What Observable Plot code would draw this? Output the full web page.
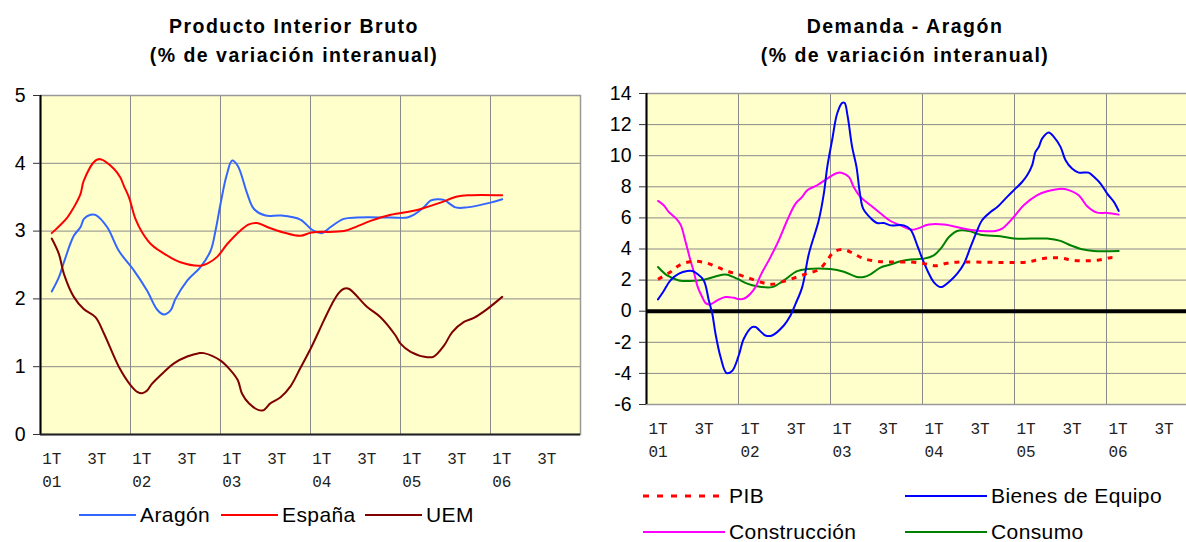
<!DOCTYPE html>
<html><head><meta charset="utf-8">
<script src="https://cdn.jsdelivr.net/npm/d3@7"></script>
<script src="https://cdn.jsdelivr.net/npm/@observablehq/plot@0.6"></script>
<style>
html,body{margin:0;padding:0;background:#fff;overflow:hidden;}
#wrap{position:relative;width:1186px;height:542px;overflow:hidden;font-family:"Liberation Sans",Arial,sans-serif;color:#000;}
.title{position:absolute;top:12px;width:460px;font-weight:bold;font-size:19.5px;letter-spacing:1.5px;text-align:center;line-height:29px;}
.chart{position:absolute;top:0;}
.leg{position:absolute;font-size:21px;letter-spacing:0.4px;display:flex;align-items:center;white-space:nowrap;height:26px;}
.leg svg{margin-right:4px;}
</style></head><body><div id="wrap"></div>
<script>
// ---------- data (x = quarter index, 0 = 1T 2001; y = % variación interanual) ----------
const quarterTicks = [0,2,4,6,8,10,12,14,16,18,20,22];
const quarterLabels = ["1T","3T","1T","3T","1T","3T","1T","3T","1T","3T","1T","3T"];
const yearTicks = [0,4,8,12,16,20];
const yearLabels = ["01","02","03","04","05","06"];
const yearBounds = [3.5,7.5,11.5,15.5,19.5];
const yTicksPIB = [0,1,2,3,4,5];
const yTicksDem = [-6,-4,-2,0,2,4,6,8,10,12,14];

const aragon = [[0,2.11],[0.32,2.32],[0.54,2.54],[0.98,2.93],[1.28,3.06],[1.43,3.18],[1.72,3.24],[1.94,3.24],[2.46,3.06],[2.98,2.71],[3.65,2.42],[4.24,2.12],[4.69,1.84],[4.98,1.77],[5.28,1.83],[5.5,2.0],[6.02,2.27],[6.61,2.47],[7.06,2.71],[7.28,3.01],[7.5,3.40],[7.77,3.82],[8.02,4.04],[8.27,3.96],[8.69,3.55],[8.98,3.33],[9.5,3.23],[10.17,3.23],[11.05,3.17],[11.57,3.02],[12.02,2.97],[12.39,3.06],[12.98,3.18],[13.57,3.2],[15.06,3.2],[15.8,3.2],[16.09,3.24],[16.54,3.35],[16.83,3.45],[17.13,3.47],[17.43,3.46],[17.95,3.35],[18.46,3.35],[19.5,3.42],[20.02,3.47]];
const espana = [[0,2.97],[0.69,3.20],[0.98,3.35],[1.28,3.55],[1.42,3.74],[1.94,4.04],[2.17,4.06],[2.76,3.92],[3.05,3.79],[3.2,3.67],[3.43,3.50],[3.72,3.18],[4.02,2.98],[4.46,2.79],[5.13,2.64],[5.72,2.54],[6.61,2.49],[6.91,2.52],[7.35,2.62],[7.8,2.81],[8.39,3.01],[8.76,3.10],[9.13,3.12],[9.58,3.06],[10.3,2.98],[11.05,2.93],[11.55,2.98],[12.98,3.0],[13.57,3.07],[14.17,3.15],[15.06,3.24],[16.09,3.30],[16.54,3.34],[17.28,3.42],[18.02,3.51],[18.54,3.53],[20.02,3.53]];
const uem = [[0,2.89],[0.32,2.66],[0.54,2.37],[0.98,2.03],[1.42,1.85],[1.94,1.73],[2.32,1.49],[2.98,1.0],[3.5,0.73],[3.8,0.63],[4.02,0.61],[4.24,0.65],[4.46,0.75],[4.98,0.92],[5.43,1.05],[6.02,1.15],[6.54,1.20],[6.76,1.20],[7.5,1.09],[7.94,0.95],[8.27,0.80],[8.46,0.60],[8.76,0.46],[9.2,0.36],[9.42,0.36],[9.72,0.46],[10.17,0.55],[10.61,0.71],[11.05,0.98],[11.57,1.31],[12.09,1.68],[12.46,1.93],[12.76,2.09],[12.98,2.15],[13.2,2.15],[14.02,1.88],[14.61,1.73],[15.28,1.46],[15.5,1.34],[15.95,1.22],[16.69,1.14],[16.98,1.15],[17.43,1.31],[17.8,1.51],[18.32,1.66],[18.76,1.72],[19.35,1.85],[20.02,2.03]];

const pib = [[0,2.05],[0.54,2.52],[0.98,3.0],[1.56,3.21],[2.07,3.12],[2.57,2.84],[3.01,2.58],[3.51,2.35],[4.02,2.09],[4.6,1.81],[4.96,1.73],[5.47,1.92],[6.05,2.2],[6.56,2.46],[6.99,2.67],[7.36,3.27],[7.64,3.81],[8.08,3.96],[8.51,3.70],[8.95,3.38],[9.53,3.21],[10.11,3.16],[10.98,3.16],[11.56,3.06],[12.07,2.92],[12.57,3.09],[13.15,3.16],[16.05,3.16],[16.56,3.33],[17.06,3.44],[17.57,3.41],[18.08,3.27],[19.09,3.27],[19.67,3.44],[20.0,3.44]];
const bienes = [[0,0.76],[0.25,1.30],[0.54,1.98],[0.91,2.41],[1.27,2.58],[1.49,2.58],[1.7,2.41],[1.99,1.98],[2.21,0.69],[2.36,-0.16],[2.5,-1.45],[2.72,-2.95],[2.98,-3.98],[3.22,-3.85],[3.51,-2.85],[3.73,-1.77],[4.09,-1.02],[4.24,-1.02],[4.67,-1.56],[4.96,-1.56],[5.47,-0.92],[5.76,-0.28],[5.98,0.47],[6.27,1.55],[6.56,3.70],[6.99,5.85],[7.21,7.56],[7.36,9.28],[7.57,11.0],[7.79,12.71],[8.01,13.40],[8.11,13.40],[8.25,12.5],[8.44,10.57],[8.63,9.28],[8.78,7.56],[8.92,6.60],[9.24,6.0],[9.53,5.67],[9.82,5.67],[10.11,5.52],[10.69,5.52],[10.98,5.24],[11.27,4.24],[11.49,3.38],[11.78,2.41],[11.99,1.87],[12.29,1.55],[12.72,1.98],[13.01,2.41],[13.3,3.05],[13.59,4.13],[13.88,5.2],[14.09,5.85],[14.46,6.38],[14.75,6.70],[15.18,7.35],[15.54,7.88],[15.83,8.31],[16.05,8.74],[16.27,9.39],[16.41,10.24],[16.56,10.57],[16.7,11.1],[16.99,11.49],[17.21,11.21],[17.5,10.57],[17.72,9.71],[18.0,9.17],[18.29,8.91],[18.72,8.91],[18.95,8.64],[19.24,8.21],[19.53,7.56],[19.82,7.03],[20.03,6.45]];
const construccion = [[0,7.09],[0.25,6.81],[0.47,6.38],[0.76,6.0],[0.98,5.57],[1.2,4.45],[1.41,3.27],[1.56,2.52],[1.73,1.55],[1.92,0.91],[2.07,0.52],[2.28,0.44],[2.57,0.69],[2.93,0.91],[3.30,0.86],[3.51,0.78],[3.73,0.80],[4.02,1.12],[4.24,1.55],[4.46,2.3],[4.89,3.48],[5.25,4.56],[5.62,5.85],[5.98,6.92],[6.27,7.35],[6.49,7.78],[6.92,8.1],[7.36,8.53],[7.79,8.89],[8.01,8.89],[8.3,8.64],[8.51,7.99],[8.8,7.35],[9.24,6.81],[9.67,6.3],[10.11,5.8],[10.54,5.52],[11.05,5.24],[11.27,5.31],[11.78,5.57],[12.43,5.57],[13.44,5.27],[14.02,5.16],[14.67,5.16],[14.96,5.31],[15.47,6.06],[15.9,6.81],[16.49,7.46],[16.92,7.71],[17.57,7.88],[17.79,7.82],[18.29,7.46],[18.66,6.75],[19.09,6.34],[19.53,6.32],[20.03,6.21]];
const consumo = [[0,2.84],[0.4,2.3],[0.91,1.98],[1.41,1.94],[1.99,2.03],[2.43,2.2],[2.79,2.35],[3.01,2.35],[3.44,2.09],[3.88,1.77],[4.31,1.6],[4.96,1.55],[5.47,1.98],[6.05,2.58],[6.49,2.71],[7.5,2.71],[8.08,2.54],[8.66,2.2],[8.95,2.2],[9.24,2.37],[9.67,2.8],[10.11,3.0],[10.54,3.21],[10.98,3.33],[11.56,3.38],[11.99,3.59],[12.29,4.02],[12.65,4.77],[13.01,5.16],[13.52,5.16],[14.02,4.92],[14.89,4.82],[15.47,4.67],[16.92,4.67],[17.5,4.52],[17.93,4.24],[18.44,3.98],[18.95,3.87],[20.03,3.87]];

// ---------- styles ----------
const bg = "#ffffcc";
const grid = "#8a8a8a";
const col = {aragon:"#3366ff", espana:"#ff0000", uem:"#800000", pib:"#ff0000", bienes:"#0000ff", construccion:"#ff00ff", consumo:"#008000"};

const wrap = document.getElementById("wrap");

function axesMarks(yTicks) {
  return [
    Plot.axisY({ticks: yTicks, tickSize: 7, tickPadding: 8, tickFormat: (d) => String(d), fontSize: 19.5, fontFamily: "Liberation Sans, Arial", label: null, stroke: "#333", fill: "#000"}),
    Plot.axisX({ticks: quarterTicks, tickSize: 0, tickPadding: 18, tickFormat: (d) => quarterLabels[quarterTicks.indexOf(d)], fontSize: 16, fontFamily: "Liberation Mono, monospace", fill: "#222", label: null}),
    Plot.axisX({ticks: yearTicks, tickSize: 0, tickPadding: 41, tickFormat: (d) => yearLabels[yearTicks.indexOf(d)], fontSize: 16, fontFamily: "Liberation Mono, monospace", fill: "#222", label: null})
  ];
}
const line = (data, stroke, extra = {}) => Plot.line(data, {x: (d) => d[0], y: (d) => d[1], stroke, strokeWidth: 2, curve: "catmull-rom", ...extra});

// ---------- left: PIB ----------
const leftPlot = Plot.plot({
  width: 590, height: 500,
  marginLeft: 40, marginRight: 10, marginTop: 95, marginBottom: 66,
  x: {domain: [-0.5, 23.5]},
  y: {domain: [0, 5]},
  style: {background: "transparent", overflow: "visible"},
  marks: [
    Plot.frame({fill: bg, stroke: null}),
    Plot.gridY({ticks: yTicksPIB, stroke: grid, strokeOpacity: 1, strokeWidth: 1}),
    Plot.gridX({ticks: yearBounds, stroke: grid, strokeOpacity: 1, strokeWidth: 1}),
    Plot.frame({stroke: "#999", strokeWidth: 1.5}),
    Plot.ruleX([-0.5], {stroke: "#000", strokeWidth: 2}),
    Plot.ruleY([0], {stroke: "#222", strokeWidth: 2}),
    ...axesMarks(yTicksPIB),
    line(aragon, col.aragon),
    line(espana, col.espana),
    line(uem, col.uem)
  ]
});
leftPlot.classList.add("chart");
leftPlot.style.left = "0px";
wrap.appendChild(leftPlot);

// ---------- right: Demanda ----------
const rightPlot = Plot.plot({
  width: 618, height: 470,
  marginLeft: 56, marginRight: 10, marginTop: 93, marginBottom: 66,
  x: {domain: [-0.5, 23.5]},
  y: {domain: [-6, 14]},
  style: {background: "transparent", overflow: "visible"},
  marks: [
    Plot.frame({fill: bg, stroke: null}),
    Plot.gridY({ticks: yTicksDem, stroke: grid, strokeOpacity: 1, strokeWidth: 1}),
    Plot.gridX({ticks: yearBounds, stroke: grid, strokeOpacity: 1, strokeWidth: 1}),
    Plot.frame({stroke: "#999", strokeWidth: 1.5}),
    Plot.ruleX([-0.5], {stroke: "#000", strokeWidth: 2}),
    Plot.ruleY([0], {stroke: "#000", strokeWidth: 4}),
    ...axesMarks(yTicksDem),
    line(consumo, col.consumo),
    line(construccion, col.construccion),
    line(bienes, col.bienes),
    line(pib, col.pib, {strokeWidth: 3, strokeDasharray: "5,6", strokeLinecap: "butt"})
  ]
});
rightPlot.classList.add("chart");
rightPlot.style.left = "590px";
wrap.appendChild(rightPlot);

// ---------- titles ----------
function addTitle(center, l1, l2) {
  const d = document.createElement("div");
  d.className = "title";
  d.style.left = (center - 230) + "px";
  d.innerHTML = l1 + "<br>" + l2;
  wrap.appendChild(d);
}
addTitle(294, "Producto Interior Bruto", "(% de variación interanual)");
addTitle(905, "Demanda - Aragón", "(% de variación interanual)");

// ---------- legends ----------
function addLegend(x, y, w, color, label, dash, sw) {
  const d = document.createElement("div");
  d.className = "leg";
  d.style.left = x + "px";
  d.style.top = (y - 13) + "px";
  d.innerHTML = `<svg width="${w}" height="6"><line x1="0" x2="${w}" y1="3" y2="3" stroke="${color}" stroke-width="${sw || 2}" ${dash ? `stroke-dasharray="${dash}"` : ""}/></svg><span>${label}</span>`;
  wrap.appendChild(d);
}
addLegend(79, 515, 57, col.aragon, "Aragón");
addLegend(221, 515, 57, col.espana, "España");
addLegend(365, 515, 57, col.uem, "UEM");
addLegend(643, 496, 82, col.pib, "PIB", "6,8", 3);
addLegend(905, 496, 82, col.bienes, "Bienes de Equipo");
addLegend(643, 532, 82, col.construccion, "Construcción");
addLegend(905, 532, 82, col.consumo, "Consumo");
</script></body></html>
